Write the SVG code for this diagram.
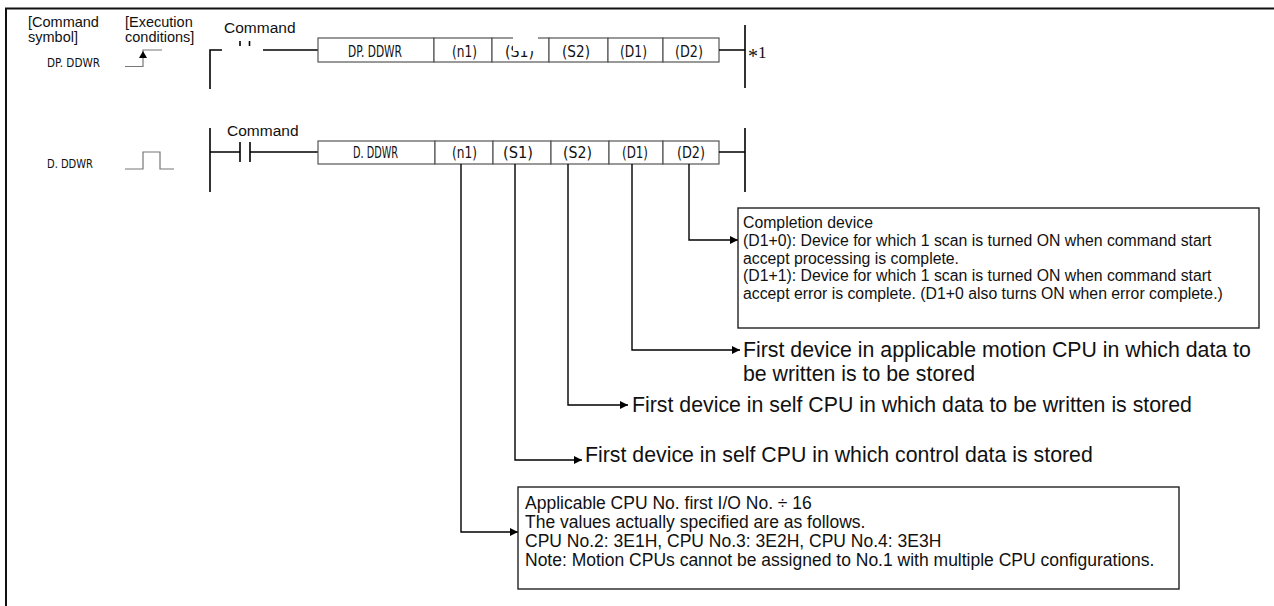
<svg xmlns="http://www.w3.org/2000/svg" width="1274" height="606" viewBox="0 0 1274 606">
<defs>
<style>
.lbl{font-family:"Liberation Sans",Arial,sans-serif;font-size:14.5px;fill:#111}
.cmd{font-family:"Liberation Sans",Arial,sans-serif;font-size:15.5px;fill:#111}
.gth{font-family:"DejaVu Sans",sans-serif;font-size:16px;fill:#111}
.gl{font-family:"DejaVu Sans",sans-serif;font-size:13px;fill:#111}
.big{font-family:"Liberation Sans",Arial,sans-serif;font-size:21.3px;fill:#111}
.box{font-family:"Liberation Sans",Arial,sans-serif;font-size:15.8px;fill:#111}
.box2{font-family:"Liberation Sans",Arial,sans-serif;font-size:17.5px;fill:#111}
.cell{fill:#fff;stroke:#555;stroke-width:1.2}
.rung{stroke:#000;stroke-width:1.6;fill:none}
.gray{stroke:#777;stroke-width:1.2;fill:none}
.con{stroke:#000;stroke-width:1.4;fill:none}
.note{fill:#fff;stroke:#222;stroke-width:1.4}
</style>
<marker id="ah" viewBox="0 0 10 10" refX="10" refY="5" markerWidth="10" markerHeight="8" markerUnits="userSpaceOnUse" orient="auto">
<path d="M0,0 L10,5 L0,10 z" fill="#000"/>
</marker>
</defs>
<rect width="1274" height="606" fill="#fff"/>
<g id="frame">
<path d="M6,606 V8.5 H1274" stroke="#111" stroke-width="2" fill="none"/>
</g>
<g id="header">
<text class="lbl" x="28" y="27">[Command</text>
<text class="lbl" x="28" y="42">symbol]</text>
<text class="lbl" x="125" y="27">[Execution</text>
<text class="lbl" x="125" y="42">conditions]</text>
</g>
<g id="dp-row">
<text class="gl" x="47" y="67" textLength="53" lengthAdjust="spacingAndGlyphs">DP. DDWR</text>
<path class="gray" d="M125,66.5 H143 V50 H162"/>
<path d="M143,51 L139,58 L147,58 z" fill="#000"/>
<text class="cmd" x="224" y="33">Command</text>
<path class="rung" d="M210,89 V50 H222"/>
<path class="rung" d="M240,41 V46 M249.5,41 V46"/>
<path class="rung" d="M263,50 H318"/>
<rect class="cell" x="318" y="38" width="116" height="24"/>
<rect class="cell" x="434" y="38" width="58" height="24"/>
<rect class="cell" x="492" y="38" width="57" height="24"/>
<rect class="cell" x="549" y="38" width="59" height="24"/>
<rect class="cell" x="608" y="38" width="55" height="24"/>
<rect class="cell" x="663" y="38" width="56" height="24"/>
<text class="gth" x="348" y="57" textLength="54" lengthAdjust="spacingAndGlyphs">DP. DDWR</text>
<text class="gth" x="452" y="57" textLength="25" lengthAdjust="spacingAndGlyphs">(n1)</text>
<text class="gth" x="505" y="57" textLength="29" lengthAdjust="spacingAndGlyphs">(S1)</text>
<text class="gth" x="562" y="57" textLength="28" lengthAdjust="spacingAndGlyphs">(S2)</text>
<text class="gth" x="620" y="57" textLength="27" lengthAdjust="spacingAndGlyphs">(D1)</text>
<text class="gth" x="675" y="57" textLength="28" lengthAdjust="spacingAndGlyphs">(D2)</text>
<rect x="513" y="30" width="25" height="21" fill="#fff"/>
<path class="rung" d="M719,50 H745 M745,25 V88"/>
<text x="748" y="58" font-family="Liberation Serif,serif" font-size="17" fill="#111"><tspan font-size="20" dy="5">*</tspan><tspan dy="-5">1</tspan></text>
</g>
<g id="d-row">
<text class="gl" x="47" y="168" textLength="46" lengthAdjust="spacingAndGlyphs">D. DDWR</text>
<path class="gray" d="M125,169 H143 V152 H160 V169 H174"/>
<text class="cmd" x="227" y="136">Command</text>
<path class="rung" d="M210,128 V192 M210,152 H240 M240,142 V162 M250,142 V162 M250,152 H318"/>
<rect class="cell" x="318" y="141" width="117" height="23"/>
<rect class="cell" x="435" y="141" width="58" height="23"/>
<rect class="cell" x="493" y="141" width="58" height="23"/>
<rect class="cell" x="551" y="141" width="58" height="23"/>
<rect class="cell" x="609" y="141" width="54" height="23"/>
<rect class="cell" x="663" y="141" width="56" height="23"/>
<text class="gth" x="353" y="158" textLength="45" lengthAdjust="spacingAndGlyphs">D. DDWR</text>
<text class="gth" x="452" y="158" textLength="25" lengthAdjust="spacingAndGlyphs">(n1)</text>
<text class="gth" x="503" y="158" textLength="30" lengthAdjust="spacingAndGlyphs">(S1)</text>
<text class="gth" x="563" y="158" textLength="29" lengthAdjust="spacingAndGlyphs">(S2)</text>
<text class="gth" x="622" y="158" textLength="26" lengthAdjust="spacingAndGlyphs">(D1)</text>
<text class="gth" x="677" y="158" textLength="28" lengthAdjust="spacingAndGlyphs">(D2)</text>
<path class="rung" d="M719,152 H745 M745,128 V192"/>
</g>
<g id="connectors">
<path class="con" d="M689,164 V240 H738" marker-end="url(#ah)"/>
<path class="con" d="M632,164 V350 H740" marker-end="url(#ah)"/>
<path class="con" d="M568,164 V405 H628" marker-end="url(#ah)"/>
<path class="con" d="M515,164 V460 H582" marker-end="url(#ah)"/>
<path class="con" d="M461,164 V532 H518" marker-end="url(#ah)"/>
</g>
<g id="completion-note">
<rect class="note" x="738" y="208" width="521" height="120"/>
<text class="box" x="743" y="228">Completion device</text>
<text class="box" x="743" y="245.8">(D1+0): Device for which 1 scan is turned ON when command start</text>
<text class="box" x="743" y="263.6">accept processing is complete.</text>
<text class="box" x="743" y="281.4">(D1+1): Device for which 1 scan is turned ON when command start</text>
<text class="box" x="743" y="299.2">accept error is complete. (D1+0 also turns ON when error complete.)</text>
</g>
<g id="d1-label">
<text class="big" x="743" y="357">First device in applicable motion CPU in which data to</text>
<text class="big" x="743" y="381">be written is to be stored</text>
</g>
<g id="s2-label">
<text class="big" x="632" y="412">First device in self CPU in which data to be written is stored</text>
</g>
<g id="s1-label">
<text class="big" x="585" y="462">First device in self CPU in which control data is stored</text>
</g>
<g id="n1-note">
<rect class="note" x="518" y="487" width="661" height="102"/>
<text class="box2" x="525" y="509">Applicable CPU No. first I/O No. ÷ 16</text>
<text class="box2" x="525" y="528">The values actually specified are as follows.</text>
<text class="box2" x="525" y="547">CPU No.2: 3E1H, CPU No.3: 3E2H, CPU No.4: 3E3H</text>
<text class="box2" x="525" y="566">Note: Motion CPUs cannot be assigned to No.1 with multiple CPU configurations.</text>
</g>
</svg>
